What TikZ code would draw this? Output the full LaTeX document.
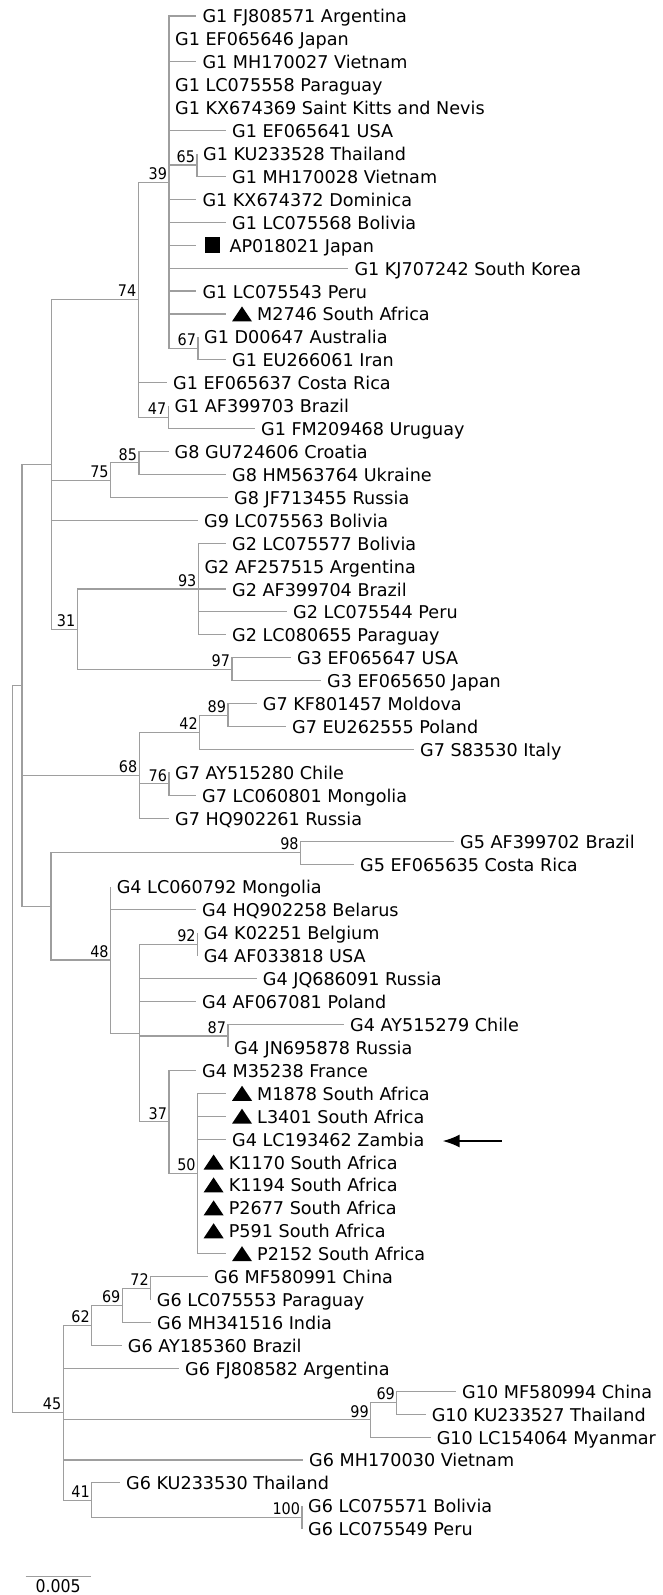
\documentclass[tikz,border=0pt]{standalone}
\usepackage{fontspec}
\setmainfont{DejaVu Sans}
\newfontfamily\labfont{DejaVu Sans Condensed}
\usetikzlibrary{arrows.meta}
\definecolor{brc}{RGB}{158,158,158}
\tikzset{
  br/.style={draw=brc, line width=1.1pt},
  leaf/.style={anchor=base west, inner sep=0pt, font=\fontsize{17.6}{17.6}\selectfont},
  lab/.style={anchor=base east, inner sep=0pt, font=\labfont\fontsize{16}{16}\selectfont},
  mkr/.style={fill=black, draw=none},
}
% leaf: #1 row, #2 parent, #3 tip x, #4 text
\newcommand\LfP[4]{%
  \coordinate (p#1) at (#3,{16+22.92*(#1-1)});
  \draw[br] (#2) |- (p#1);
  \node[leaf] (t#1) at ([shift={(6,7)}]p#1) {#4};}
% leaf with triangle marker
\newcommand\LfT[4]{%
  \coordinate (p#1) at (#3,{16+22.92*(#1-1)});
  \draw[br] (#2) |- (p#1);
  \fill[mkr] ([shift={(6,7.5)}]p#1) -- ([shift={(26,7.5)}]p#1) -- ([shift={(16,-7.5)}]p#1) -- cycle;
  \node[leaf] (t#1) at ([shift={(31,7)}]p#1) {#4};}
% internal node with label: #1 name, #2 parent, #3 x, #4 junction y, #5 label
\newcommand\IntL[5]{%
  \coordinate (#1) at (#3,#4);
  \draw[br] (#2) |- (#1);
  \node[lab] (l#1) at ([shift={(-1.8,-2.8)}]#1) {#5};}
\newcommand\IntN[4]{%
  \coordinate (#1) at (#3,#4);
  \draw[br] (#2) |- (#1);}
\begin{document}
\begin{tikzpicture}[x=1pt,y=-1pt]
\useasboundingbox (0,0) rectangle (662,1595);
\coordinate (root) at (12.7,1049);
% backbone
\IntN{nB}{root}{22}{685.3}
\IntN{nA}{nB}{51.5}{464.35}
\IntN{nC}{nB}{51}{906.3}
\IntL{n68}{nB}{139.3}{775.2}{68}
\IntL{n45}{root}{63.3}{1412.7}{45}
% G1
\IntL{n74}{nA}{138.3}{299.6}{74}
\IntL{n39}{n74}{169}{182.17}{39}
\IntL{n65}{n39}{197}{164.98}{65}
\IntL{n67}{n39}{198}{348.34}{67}
\IntL{n47}{n74}{168.3}{417.1}{47}
\LfP{1}{n39}{196.3}{G1 FJ808571 Argentina}
\LfP{2}{n39}{169}{G1 EF065646 Japan}
\LfP{3}{n39}{196.3}{G1 MH170027 Vietnam}
\LfP{4}{n39}{169}{G1 LC075558 Paraguay}
\LfP{5}{n39}{169}{G1 KX674369 Saint Kitts and Nevis}
\LfP{6}{n39}{226}{G1 EF065641 USA}
\LfP{7}{n65}{197}{G1 KU233528 Thailand}
\LfP{8}{n65}{226}{G1 MH170028 Vietnam}
\LfP{9}{n39}{196.3}{G1 KX674372 Dominica}
\LfP{10}{n39}{226}{G1 LC075568 Bolivia}
\coordinate (p11) at (196.3,{16+22.92*10});
\draw[br] (n39) |- (p11);
\fill[mkr] ([shift={(8.5,-8.3)}]p11) rectangle ([shift={(23.3,7.3)}]p11);
\node[leaf] (t11) at ([shift={(33,7)}]p11) {AP018021 Japan};
\LfP{12}{n39}{348.3}{G1 KJ707242 South Korea}
\LfP{13}{n39}{196.3}{G1 LC075543 Peru}
\LfT{14}{n39}{226}{M2746 South Africa}
\LfP{15}{n67}{198}{G1 D00647 Australia}
\LfP{16}{n67}{226}{G1 EU266061 Iran}
\LfP{17}{n74}{167}{G1 EF065637 Costa Rica}
\LfP{18}{n47}{168.3}{G1 AF399703 Brazil}
\LfP{19}{n47}{255}{G1 FM209468 Uruguay}
% G8, G9
\IntL{n75}{nA}{110.6}{480.13}{75}
\IntL{n85}{n75}{139}{462.94}{85}
\LfP{20}{n85}{168.5}{G8 GU724606 Croatia}
\LfP{21}{n85}{226}{G8 HM563764 Ukraine}
\LfP{22}{n75}{228}{G8 JF713455 Russia}
\LfP{23}{nA}{198}{G9 LC075563 Bolivia}
% G2, G3
\IntL{n31}{nA}{77.3}{629.1}{31}
\IntL{n93}{n31}{198.4}{589}{93}
\IntL{n97}{n31}{232}{669.2}{97}
\LfP{24}{n93}{226}{G2 LC075577 Bolivia}
\LfP{25}{n93}{198.4}{G2 AF257515 Argentina}
\LfP{26}{n93}{226}{G2 AF399704 Brazil}
\LfP{27}{n93}{287}{G2 LC075544 Peru}
\LfP{28}{n93}{226}{G2 LC080655 Paraguay}
\LfP{29}{n97}{291}{G3 EF065647 USA}
\LfP{30}{n97}{321}{G3 EF065650 Japan}
% G7
\IntL{n42}{n68}{199.7}{732.25}{42}
\IntL{n89}{n42}{228}{715.06}{89}
\IntL{n76}{n68}{169}{783.82}{76}
\LfP{31}{n89}{256.7}{G7 KF801457 Moldova}
\LfP{32}{n89}{286}{G7 EU262555 Poland}
\LfP{33}{n42}{414}{G7 S83530 Italy}
\LfP{34}{n76}{169}{G7 AY515280 Chile}
\LfP{35}{n76}{196}{G7 LC060801 Mongolia}
\LfP{36}{n68}{169}{G7 HQ902261 Russia}
% G5
\IntL{n98}{nC}{300.6}{852.58}{98}
\LfP{37}{n98}{454}{G5 AF399702 Brazil}
\LfP{38}{n98}{354}{G5 EF065635 Costa Rica}
% G4
\IntL{n48}{nC}{110.6}{960.02}{48}
\IntN{nX}{n48}{139.3}{1033.08}
\IntL{n92}{nX}{197.6}{944.26}{92}
\IntL{n87}{nX}{228}{1035.94}{87}
\IntL{n37}{nX}{169}{1121.89}{37}
\IntL{n50}{n37}{197.6}{1173.46}{50}
\LfP{39}{n48}{110.6}{G4 LC060792 Mongolia}
\LfP{40}{n48}{196}{G4 HQ902258 Belarus}
\LfP{41}{n92}{197.6}{G4 K02251 Belgium}
\LfP{42}{n92}{197.6}{G4 AF033818 USA}
\LfP{43}{nX}{256.7}{G4 JQ686091 Russia}
\LfP{44}{nX}{196}{G4 AF067081 Poland}
\LfP{45}{n87}{344}{G4 AY515279 Chile}
\LfP{46}{n87}{228}{G4 JN695878 Russia}
\LfP{47}{n37}{196}{G4 M35238 France}
\LfT{48}{n50}{226}{M1878 South Africa}
\LfT{49}{n50}{226}{L3401 South Africa}
\LfP{50}{n50}{226}{G4 LC193462 Zambia}
\LfT{51}{n50}{197.6}{K1170 South Africa}
\LfT{52}{n50}{197.6}{K1194 South Africa}
\LfT{53}{n50}{197.6}{P2677 South Africa}
\LfT{54}{n50}{197.6}{P591 South Africa}
\LfT{55}{n50}{226}{P2152 South Africa}
\coordinate (ar1) at (501.6,1141);
\coordinate (ar2) at (442.5,1141);
\draw[line width=2.2pt, -{Latex[length=17pt,width=13pt]}] (ar1) -- (ar2);
% G6, G10
\IntL{n62}{n45}{91.7}{1325.3}{62}
\IntL{n69a}{n62}{122.4}{1305.25}{69}
\IntL{n72}{n69a}{150.7}{1288.06}{72}
\IntL{n99}{n45}{370.7}{1419.85}{99}
\IntL{n69b}{n99}{396.9}{1402.66}{69}
\IntL{n41}{n45}{91.7}{1500.07}{41}
\IntL{n100}{n41}{302}{1517.26}{100}
\LfP{56}{n72}{208}{G6 MF580991 China}
\LfP{57}{n72}{150.7}{G6 LC075553 Paraguay}
\LfP{58}{n69a}{151}{G6 MH341516 India}
\LfP{59}{n62}{121.7}{G6 AY185360 Brazil}
\LfP{60}{n45}{179}{G6 FJ808582 Argentina}
\LfP{61}{n69b}{456}{G10 MF580994 China}
\LfP{62}{n69b}{425.6}{G10 KU233527 Thailand}
\LfP{63}{n99}{430.6}{G10 LC154064 Myanmar}
\LfP{64}{n45}{303}{G6 MH170030 Vietnam}
\LfP{65}{n41}{120}{G6 KU233530 Thailand}
\LfP{66}{n100}{302}{G6 LC075571 Bolivia}
\LfP{67}{n100}{302}{G6 LC075549 Peru}
% scale bar
\coordinate (sb1) at (25.5,1576.7);
\coordinate (sb2) at (90.7,1576.7);
\draw[br] (sb1) -- (sb2);
\node[lab, anchor=base, font=\labfont\fontsize{17.5}{17.5}\selectfont] (sbt) at ([shift={(32.6,16)}]sb1) {0.005};
\end{tikzpicture}
\end{document}
